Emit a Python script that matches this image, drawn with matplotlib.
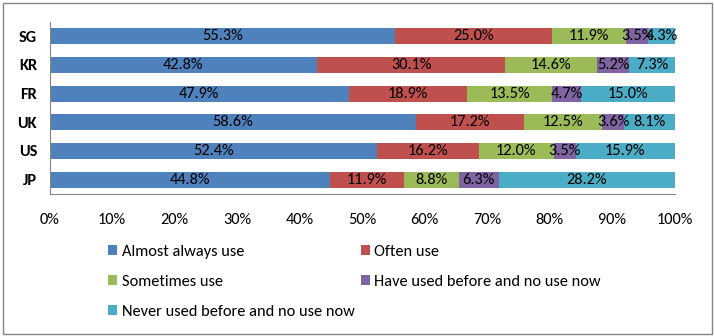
import numpy as np
import matplotlib
matplotlib.use("Agg")
import matplotlib.pyplot as plt
from matplotlib.patches import Rectangle, Patch

plt.rcParams['font.family'] = ['Carlito', 'DejaVu Sans']

countries = ['SG', 'KR', 'FR', 'UK', 'US', 'JP']
series = ['Almost always use', 'Often use', 'Sometimes use',
          'Have used before and no use now', 'Never used before and no use now']
colors = ['#4F81BD', '#C0504D', '#9BBB59', '#8064A2', '#4BACC6']

almost = [55.3, 42.8, 47.9, 58.6, 52.4, 44.8]
often = [25.0, 30.1, 18.9, 17.2, 16.2, 11.9]
sometimes = [11.9, 14.6, 13.5, 12.5, 12.0, 8.8]
used_before = [3.5, 5.2, 4.7, 3.6, 3.5, 6.3]
never_used = [4.3, 7.3, 15.0, 8.1, 15.9, 28.2]

values = [almost, often, sometimes, used_before, never_used]
xticks = [0, 10, 20, 30, 40, 50, 60, 70, 80, 90, 100]

FS = 11.8
W, H = 714, 336
fig = plt.figure(figsize=(W / 100, H / 100), dpi=100)
ax = fig.add_axes([49.5 / W, 1 - 194 / H, (675 - 49.5) / W, (194 - 22) / H])

y = np.arange(len(countries))[::-1]
left = np.zeros(len(countries))
for vals, col in zip(values, colors):
    vals = np.array(vals)
    ax.barh(y, vals, left=left, height=0.56, color=col)
    for yi, l, v in zip(y, left, vals):
        ax.text(l + v / 2, yi, f'{v:.1f}%', ha='center', va='center',
                fontsize=FS, color='black')
    left += vals

ax.set_xlim(0, 100)
ax.set_ylim(-0.5, len(countries) - 0.5)
ax.set_xticks(xticks)
ax.set_xticklabels([f'{t}%' for t in xticks], fontsize=FS)
ax.set_yticks(y)
ax.set_yticklabels(countries, fontsize=FS, fontweight='bold')
ax.tick_params(axis='both', length=0)
ax.tick_params(axis='x', pad=14)
ax.tick_params(axis='y', pad=9)
for s in ['top', 'right']:
    ax.spines[s].set_visible(False)
for s in ['left', 'bottom']:
    ax.spines[s].set_color('#868686')

# legend is filled column by column, so reorder for row-wise reading
order = [0, 2, 4, 1, 3]
handles = [Patch(facecolor=colors[i], label=series[i]) for i in order]
fig.legend(handles=handles, ncol=2, loc='upper left',
           bbox_to_anchor=(108 / W, 1 - 245 / H), frameon=False,
           fontsize=FS, handlelength=0.55, handleheight=0.55,
           handletextpad=0.3, columnspacing=0.35, labelspacing=0.97,
           borderpad=0, borderaxespad=0)

fig.patches.append(Rectangle((3 / W, 2 / H), (712 - 3) / W, (333 - 2) / H,
                             transform=fig.transFigure, fill=False,
                             edgecolor='#868686', linewidth=1))

fig.savefig('out.png', dpi=100)
